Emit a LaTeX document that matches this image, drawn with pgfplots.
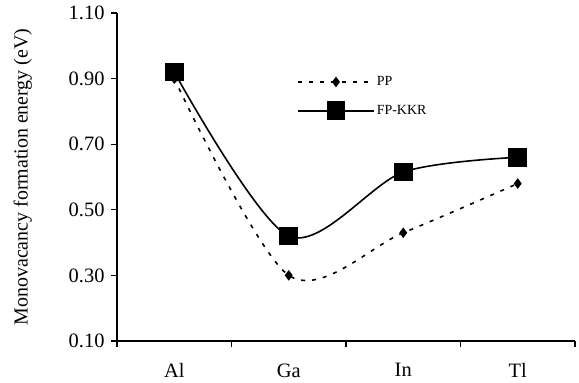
\documentclass[border=0pt]{standalone}
\usepackage{pgfplots}
\pgfplotsset{compat=1.18}
\usepackage{fontspec}
\setmainfont{Liberation Serif}
\begin{document}
\begin{tikzpicture}
\begin{axis}[
  name=ax,
  scale only axis,
  width=458bp, height=328bp,
  xmin=-0.5, xmax=3.5,
  ymin=0.1, ymax=1.1,
  axis lines=left,
  axis line style={line width=1.2pt, -},
  xtick={-0.5,0.5,1.5,2.5,3.5},
  xticklabels={},
  extra x ticks={0,1,2,3},
  extra x tick labels={Al,Ga,In,Tl},
  extra x tick style={major tick length=0pt, tick label style={yshift=-19bp}},
  ytick={0.1,0.3,0.5,0.7,0.9,1.1},
  yticklabels={0.10,0.30,0.50,0.70,0.90,1.10},
  tick align=outside,
  major tick length=6bp,
  tick style={line width=1.1pt, black},
  tick label style={font=\fontsize{20.5}{22}\selectfont},
  yticklabel style={xshift=-3bp},
  /pgf/number format/assume math mode=true,
  ylabel={Monovacancy formation energy (eV)},
  ylabel style={font=\fontsize{20}{22}\selectfont, yshift=30bp},
  legend style={draw=none, fill=none, at={(0.393,0.744)}, anchor=west, font=\fontsize{14}{16}\selectfont, row sep=13bp, inner sep=0pt, nodes={inner sep=2bp}},
  legend cell align=left,
  legend image code/.code={
    \draw[#1, mark repeat=2, mark phase=2] plot coordinates {(0bp,0bp) (38bp,0bp) (76bp,0bp)};
  },
]
\addplot[black, line width=1.6pt, dash pattern=on 4bp off 7bp, smooth, mark=diamond*, mark size=4bp, mark options={solid}]
  coordinates {(0,0.90) (1,0.30) (2,0.43) (3,0.58)};
\addlegendentry{PP}
\addplot[black, line width=1.6pt, smooth, mark=square*, mark size=8.5bp, mark options={solid}]
  coordinates {(0,0.92) (1,0.42) (2,0.615) (3,0.66)};
\addlegendentry{FP-KKR}
\end{axis}
\path ([xshift=-117bp,yshift=-42bp]ax.south west) rectangle ([xshift=4bp,yshift=13bp]ax.north east);
\end{tikzpicture}
\end{document}
